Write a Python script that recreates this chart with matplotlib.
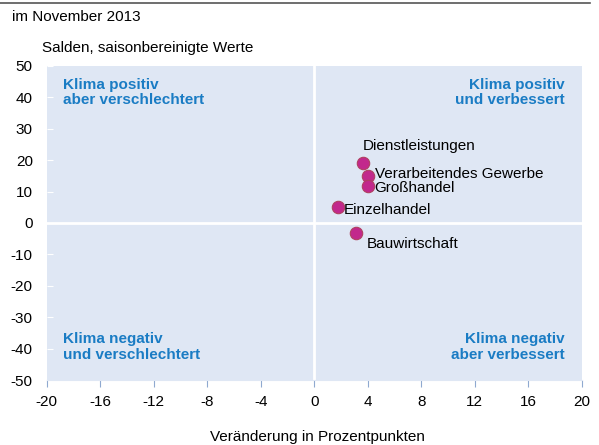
import numpy as np
import matplotlib.pyplot as plt

plt.rcParams['font.family'] = ['Liberation Sans', 'DejaVu Sans']
plt.rcParams['axes.unicode_minus'] = False

# Sektoren: Veraenderung (x) und Salden (y)
sectors = ["Dienstleistungen", "Verarbeitendes Gewerbe", "Großhandel", "Einzelhandel", "Bauwirtschaft"]
change = [3.65, 4.0, 4.0, 1.8, 3.1]
balance = [19.1, 15.0, 11.8, 5.1, -3.2]

xticks = np.arange(-20, 21, 4)
yticks = np.arange(-50, 51, 10)

fig = plt.figure(figsize=(5.99, 4.45), dpi=100)
ax = fig.add_axes([0.078, 0.146, 0.893, 0.706])
ax.set_facecolor('#dfe7f4')
ax.set_xlim(-20, 20)
ax.set_ylim(-50, 50)
ax.axvline(0, color='white', lw=2, zorder=1)
ax.axhline(0, color='white', lw=2, zorder=1)

ax.scatter(change, balance, s=80, color='#c2288c', edgecolors='#b04060', linewidths=0.8, zorder=3)

# label offsets (points)
offs = [(0, 12), (5, 1), (5, -1.5), (4, -2), (8, -8)]
for name, x, y, (dx, dy) in zip(sectors, change, balance, offs):
    ax.annotate(name, (x, y), xytext=(dx, dy), textcoords='offset points', ha='left', va='center', fontsize=11)

blue = '#1a7cc4'
ax.text(-18.8, 41.5, "Klima positiv\naber verschlechtert", color=blue, fontweight='bold', fontsize=11, va='center', linespacing=1.15)
ax.text(18.7, 41.5, "Klima positiv\nund verbessert", color=blue, fontweight='bold', fontsize=11, va='center', ha='right', linespacing=1.15)
ax.text(-18.8, -39.5, "Klima negativ\nund verschlechtert", color=blue, fontweight='bold', fontsize=11, va='center', linespacing=1.15)
ax.text(18.7, -39.5, "Klima negativ\naber verbessert", color=blue, fontweight='bold', fontsize=11, va='center', ha='right', linespacing=1.15)

ax.set_xticks(xticks)
ax.set_yticks(yticks)
ax.tick_params(axis='x', colors='#8fa9d0', labelcolor='black', labelsize=11, direction='out', length=5, pad=6)
ax.tick_params(axis='y', colors='white', labelcolor='black', labelsize=11, direction='in', length=4, pad=10)
for s in ['top', 'right', 'left']:
    ax.spines[s].set_visible(False)
ax.spines['bottom'].set_color('#dfe7f4')

fig.text(0.53, 0.018, "Veränderung in Prozentpunkten", fontsize=11, ha='center', va='center')
fig.text(0.02, 0.962, "im November 2013", fontsize=11, va='center')
fig.text(0.07, 0.892, "Salden, saisonbereinigte Werte", fontsize=11, va='center')
fig.add_artist(plt.Line2D([0, 0.985], [0.993, 0.993], color='#555555', lw=1.2))

fig.savefig("out.png", dpi=100)
